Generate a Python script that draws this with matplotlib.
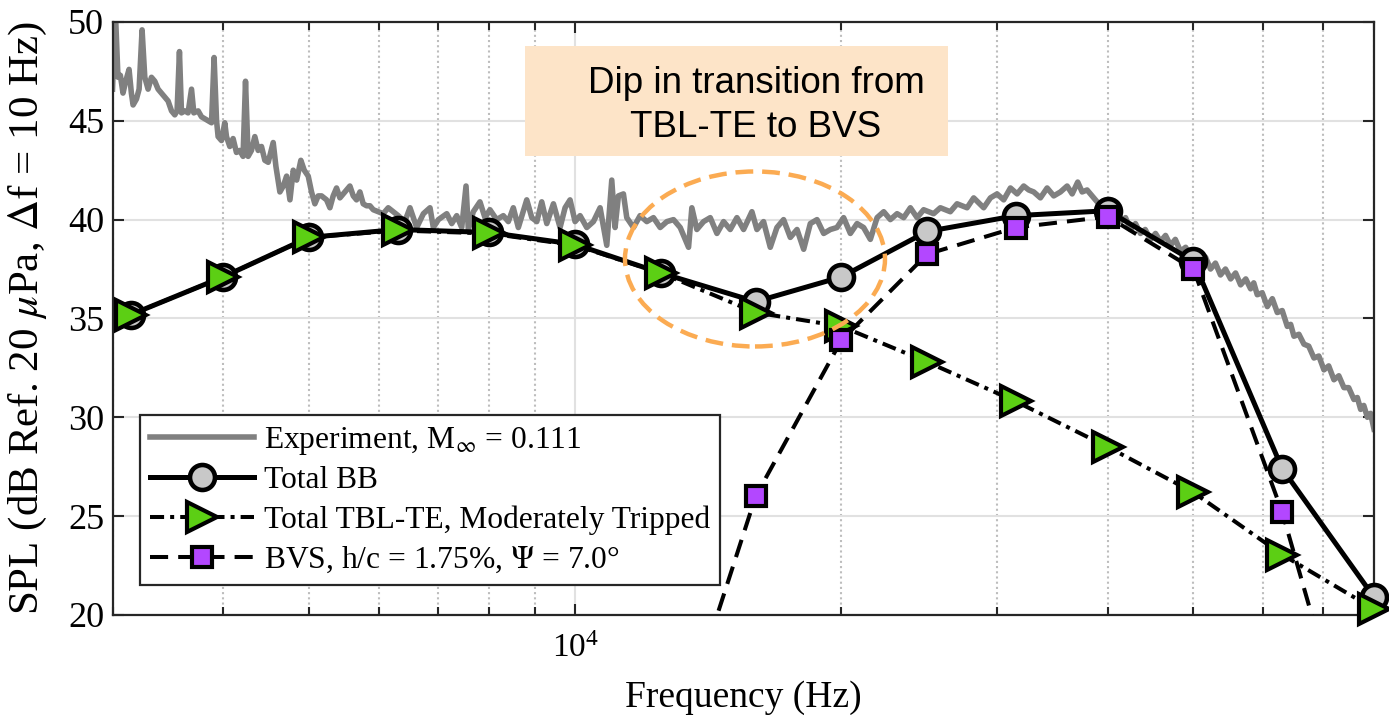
import matplotlib
matplotlib.use('Agg')
import matplotlib.pyplot as plt
from matplotlib.ticker import LogLocator, NullFormatter, FixedLocator
from matplotlib.patches import Ellipse, Rectangle

plt.rcParams['font.family'] = ['Liberation Serif', 'DejaVu Serif']
plt.rcParams['mathtext.fontset'] = 'stix'

exp_freq = [3000, 3022, 3043, 3062, 3083, 3105, 3132, 3151, 3165, 3193, 3215, 3240, 3263, 3291,
            3320, 3349, 3378, 3407, 3437, 3467, 3498, 3528, 3549, 3571, 3590, 3621, 3652, 3685,
            3707, 3749, 3782, 3815, 3848, 3882, 3908, 3933, 3949, 3984, 4018, 4036, 4071, 4106,
            4142, 4178, 4214, 4241, 4270, 4307, 4345, 4383, 4421, 4460, 4499, 4558, 4590, 4638,
            4679, 4720, 4761, 4802, 4845, 4898, 4941, 4993, 5036, 5080, 5124, 5169, 5237, 5283,
            5328, 5375, 5422, 5493, 5565, 5614, 5662, 5712, 5761, 5812, 5863, 5914, 5991, 6069,
            6149, 6230, 6311, 6420, 6507, 6622, 6738, 6855, 6915, 7006, 7161, 7254, 7349, 7445,
            7529, 7574, 7673, 7807, 7909, 8013, 8154, 8296, 8405, 8515, 8627, 8818, 8935, 9052,
            9169, 9290, 9452, 9617, 9743, 9870, 10000, 10131, 10309, 10489, 10673, 10860, 11002,
            11097, 11194, 11341, 11440, 11641, 11843, 12053, 12263, 12479, 12699, 12920, 13148,
            13436, 13552, 13729, 13972, 14217, 14466, 14719, 14976, 15239, 15505, 15845, 16053,
            16333, 16621, 16911, 17206, 17510, 17819, 18130, 18446, 18771, 19099, 19436, 19770,
            20117, 20472, 20833, 21192, 21566, 21947, 22330, 22719, 23120, 23523, 23933, 24355,
            24774, 25427, 25875, 26557, 27026, 27739, 28222, 28966, 29477, 29992, 30514, 31053,
            31601, 32145, 32569, 32995, 33574, 34167, 34760, 35372, 35993, 36468, 36999, 37425,
            37911, 38571, 39252, 40287, 40800, 41350, 41900, 42440, 43000, 43560, 44100, 44717,
            45300, 45895, 46500, 47105, 47700, 48346, 49000, 49620, 50250, 50933, 51600, 52273,
            52950, 53650, 54350, 55081, 55800, 56534, 57300, 58023, 58500, 59036, 59800, 60602,
            61400, 62198, 63000, 63840, 64400, 64953, 65800, 66665, 67500, 68425, 69300, 70228,
            71100, 72078, 73000, 73978, 74900, 75929, 76600, 77268, 77900, 78634, 79300, 80000]
exp_spl = [46.6, 50.6, 47.2, 47.3, 46.4, 47.0, 47.6, 46.4, 45.8, 46.1, 46.6, 49.6, 47.2, 46.6,
           47.2, 47.0, 46.6, 46.4, 46.2, 46.0, 45.5, 45.3, 45.5, 48.5, 45.4, 45.5, 45.4, 46.6,
           45.4, 45.5, 45.2, 45.1, 45.0, 44.9, 48.2, 45.0, 44.2, 44.0, 44.9, 44.2, 43.7, 44.1,
           43.4, 43.5, 43.2, 47.0, 43.2, 43.5, 44.2, 43.5, 43.7, 43.0, 42.9, 43.9, 42.7, 41.4,
           41.7, 42.2, 41.0, 42.5, 42.0, 43.0, 42.5, 42.2, 41.4, 40.8, 41.2, 41.2, 41.0, 40.6,
           41.2, 41.6, 41.1, 41.4, 41.7, 41.2, 41.0, 41.4, 40.8, 40.7, 40.7, 40.5, 40.4, 40.3,
           40.6, 40.4, 40.2, 39.9, 40.6, 39.6, 40.3, 40.6, 39.6, 40.0, 40.3, 39.8, 40.2, 39.6,
           41.7, 39.5, 40.4, 40.9, 40.1, 40.5, 40.0, 40.2, 39.9, 40.6, 39.6, 41.0, 40.1, 39.9,
           40.9, 39.8, 40.8, 39.6, 40.6, 41.0, 39.9, 40.2, 39.6, 39.9, 40.6, 38.7, 42.0,
           39.6, 41.2, 41.3, 40.1, 39.6, 40.2, 39.9, 40.1, 39.6, 39.9, 40.0, 39.6,
           38.6, 40.6, 39.5, 39.9, 40.1, 39.3, 39.9, 39.5, 40.1, 39.5, 40.4, 39.5,
           39.9, 38.6, 39.6, 40.0, 39.1, 39.5, 38.5, 39.8, 40.0, 39.3, 39.5, 39.6,
           40.1, 39.3, 39.8, 39.6, 39.0, 40.1, 40.4, 40.0, 40.3, 40.1, 40.6, 40.1,
           40.5, 40.3, 40.6, 40.4, 40.8, 40.6, 41.1, 40.6, 41.1, 41.3, 41.0, 41.6,
           41.3, 41.7, 41.5, 41.4, 41.1, 41.6, 41.2, 41.4, 41.7, 41.3, 41.9, 41.4,
           41.5, 41.1, 40.7, 40.3, 40.7, 39.9, 40.1, 39.5, 39.8, 39.3, 39.5, 39.0,
           39.3, 38.9, 39.2, 38.7, 39.0, 38.4, 38.6, 38.1, 38.3, 37.8, 38.1, 37.5,
           37.8, 37.2, 37.5, 37.0, 37.3, 36.7, 37.0, 36.5, 36.8, 36.2, 36.3, 35.6,
           36.0, 35.3, 35.4, 34.6, 34.7, 34.1, 34.2, 33.7, 33.6, 33.0, 33.1, 32.4,
           32.6, 31.9, 32.1, 31.5, 31.5, 30.9, 31.0, 30.4, 30.6, 30.0, 30.2, 29.4]

# one-third octave band predictions
band_freq = [3150, 4000, 5000, 6300, 8000, 10000, 12500, 16000, 20000, 25000, 31500, 40000,
             50000, 63000, 80000]
total_bb = [35.2, 37.1, 39.1, 39.5, 39.35, 38.75, 37.3, 35.85, 37.1, 39.4, 40.2, 40.45,
            37.9, 27.4, 20.9]
tbl_te = [35.2, 37.1, 39.1, 39.45, 39.3, 38.7, 37.3, 35.3, 34.6, 32.8, 30.8, 28.5,
          26.2, 23.05, 20.3]
bvs_freq = [12500, 16000, 20000, 25000, 31500, 40000, 50000, 63000, 80000]
bvs = [11.2, 26.0, 33.9, 38.25, 39.6, 40.15, 37.5, 25.2, 9.0]

labels = ['Experiment, M$_{\\infty}$ = 0.111', 'Total BB',
          'Total TBL-TE, Moderately Tripped', 'BVS, h/c = 1.75%, $\\Psi$ = 7.0\u00b0']

fig = plt.figure(figsize=(13.89, 7.17), dpi=100)
ax = fig.add_axes([0.081, 0.1423, 0.9082, 0.8271])

l_exp, = ax.plot(exp_freq, exp_spl, color='#808080', lw=4.0, zorder=2)
l_bb, = ax.plot(band_freq, total_bb, '-o', color='black', lw=3.6, ms=18, mew=3.3,
                mfc='#c8c8c8', mec='black', zorder=3, clip_on=False)
l_te, = ax.plot(band_freq, tbl_te, '->', color='black', lw=2.9, ms=21, mew=3.0,
                mfc='#5ccf14', mec='black', zorder=4, clip_on=False)
l_te.set_dashes([3.5, 1.5, 1, 1.5])
l_bvs, = ax.plot(bvs_freq, bvs, '-s', color='black', lw=2.9, ms=15, mew=3.0,
                 mfc='#b347ff', mec='black', zorder=5)
l_bvs.set_dashes([4.5, 2.5])

ax.set_xscale('log')
ax.set_xlim(3000, 80000)
ax.set_ylim(20, 50)
ax.set_yticks([20, 25, 30, 35, 40, 45, 50])
ax.xaxis.set_major_locator(FixedLocator([10000]))
ax.xaxis.set_minor_locator(LogLocator(base=10, subs=range(2, 10)))
ax.xaxis.set_minor_formatter(NullFormatter())

ax.set_axisbelow(True)
ax.yaxis.grid(True, which='major', color='#e1e1e1', lw=1.5)
ax.xaxis.grid(True, which='major', color='#e1e1e1', lw=1.5)
ax.xaxis.grid(True, which='minor', color='#bdbdbd', lw=1.5, ls=(0, (1, 1.5)))

ax.tick_params(axis='both', which='both', direction='in', top=True, right=True,
               width=1.5, color='#262626', labelsize=24)
ax.tick_params(axis='y', labelsize=26)
ax.tick_params(axis='both', which='major', length=8)
ax.tick_params(axis='x', which='minor', length=6)
ax.tick_params(axis='x', which='major', pad=13)
ax.tick_params(axis='y', which='major', pad=6)
for s in ax.spines.values():
    s.set_linewidth(1.6)
    s.set_color('#262626')

ax.set_xlabel('Frequency (Hz)', fontsize=27, labelpad=12)
ax.set_ylabel('SPL (dB Ref. 20 $\\mu$Pa, $\\Delta$f = 10 Hz)', fontsize=31)
ax.yaxis.set_label_coords(-0.05, 0.5)

leg = ax.legend([l_exp, l_bb, l_te, l_bvs], labels, loc='lower left',
                bbox_to_anchor=(0.0218, 0.0506), fontsize=22.7, frameon=True, fancybox=False,
                edgecolor='#262626', framealpha=1, borderpad=0.32, handlelength=3.3,
                handletextpad=0.32, labelspacing=0.31, borderaxespad=0)
leg.get_frame().set_linewidth(1.6)
leg.set_zorder(6)

# highlighted region around the dip
ax.add_patch(Ellipse((0.5093, 0.6003), 0.2061, 0.2951, transform=ax.transAxes, fill=False,
                     edgecolor='#fbab52', lw=3.2, ls=(0, (4, 2)), zorder=10, clip_on=False))

# callout box
fig.patches.append(Rectangle((0.378, 0.7824), 0.3045, 0.1534, transform=fig.transFigure,
                             facecolor='#fde4c8', edgecolor='none', zorder=11))
fig.text(0.5443, 0.8699, 'Dip in transition from', family='Liberation Sans', fontsize=26.5,
         ha='center', va='baseline', zorder=12)
fig.text(0.5443, 0.8085, 'TBL-TE to BVS', family='Liberation Sans', fontsize=26.5,
         ha='center', va='baseline', zorder=12)

fig.savefig('out.png', dpi=100)
